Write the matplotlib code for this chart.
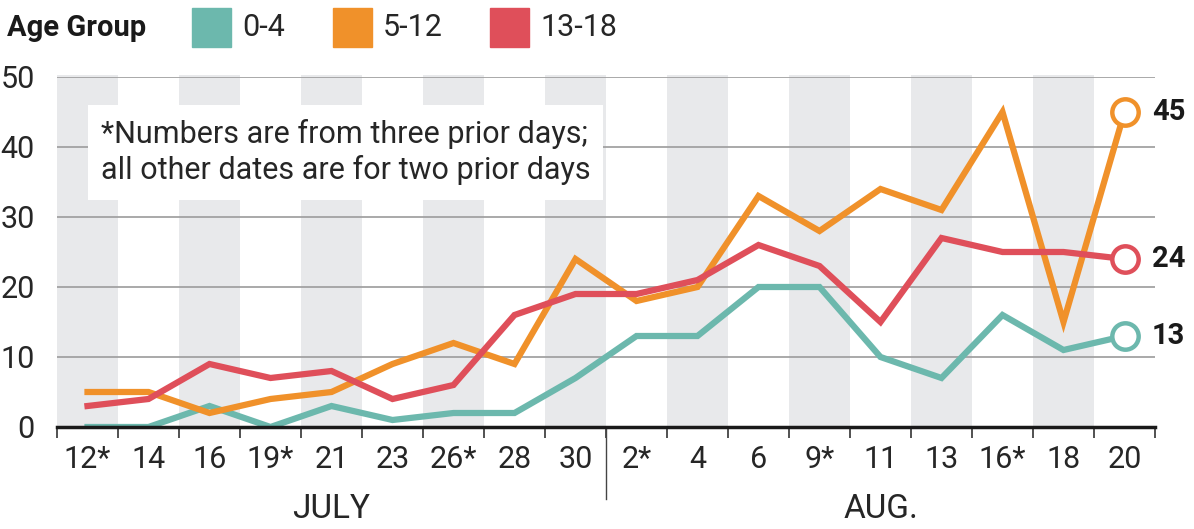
import matplotlib
matplotlib.use("Agg")
import matplotlib.pyplot as plt
from matplotlib.patches import Rectangle
import numpy as np

# data
dates = ["12*", "14", "16", "19*", "21", "23", "26*", "28", "30",
         "2*", "4", "6", "9*", "11", "13", "16*", "18", "20"]
months = ["JULY", "AUG."]
n_july = 9
age_groups = ["0-4", "5-12", "13-18"]
age_0_4 = [0, 0, 3, 0, 3, 1, 2, 2, 7, 13, 13, 20, 20, 10, 7, 16, 11, 13]
age_5_12 = [5, 5, 2, 4, 5, 9, 12, 9, 24, 18, 20, 33, 28, 34, 31, 45, 15, 45]
age_13_18 = [3, 4, 9, 7, 8, 4, 6, 16, 19, 19, 21, 26, 23, 15, 27, 25, 25, 24]
note = "*Numbers are from three prior days;\nall other dates are for two prior days"

colors = {"0-4": "#6cb8ad", "5-12": "#f0912a", "13-18": "#df4f5a"}
plt.rcParams["font.family"] = ["Roboto", "DejaVu Sans"]
TXT = "#262626"

fig = plt.figure(figsize=(11.94, 5.29), dpi=100)
ax = fig.add_axes([57 / 1194, 1 - 427 / 529, 1098 / 1194, 350 / 529])
x = np.arange(len(dates))
ax.set_xlim(-0.5, len(dates) - 0.5)
ax.set_ylim(0, 50)

# alternating grey columns
for i in range(0, len(dates), 2):
    ax.add_patch(Rectangle((i - 0.5, 0), 1, 50.3, color="#e8e9eb", lw=0,
                           zorder=0, clip_on=False))
for v in range(10, 51, 10):
    ax.axhline(v, color="#a2a2a2", lw=1.3, zorder=1)

# footnote box
ax.add_patch(Rectangle((0.0, 32.5), 8.45, 13.5, facecolor="white", lw=0, zorder=2))
ax.text(0.22, 39.3, note, fontsize=22, color=TXT, va="center", ha="left",
        linespacing=1.22, zorder=3)

series = [age_0_4, age_5_12, age_13_18]
for name, vals in zip(age_groups, series):
    ax.plot(x, vals, color=colors[name], lw=4.5, solid_joinstyle="miter", zorder=4)
    ax.plot(x[-1], vals[-1], "o", ms=19, mfc="white", mec=colors[name], mew=3.2,
            zorder=5, clip_on=False)
    ax.text(x[-1] + 0.45, vals[-1], str(vals[-1]), fontsize=21, fontweight="bold",
            va="center", ha="left", color="#1a1a1a", clip_on=False)

for s in ["top", "right", "left"]:
    ax.spines[s].set_visible(False)
ax.spines["bottom"].set_linewidth(2.5)
ax.spines["bottom"].set_color("#1a1a1a")
ax.spines["bottom"].set_zorder(6)

ax.set_yticks(range(0, 51, 10))
ax.tick_params(axis="y", length=0, pad=16, labelsize=22, labelcolor=TXT)
ax.set_xticks(np.arange(-0.5, len(dates)))
ax.set_xticklabels([])
ax.tick_params(axis="x", length=8, width=1.2, color="#333333", direction="out")
for i, d in enumerate(dates):
    ax.text(i, -2.6, d, fontsize=22, ha="center", va="top", color=TXT)

# month separator and labels
ax.plot([n_july - 0.5, n_july - 0.5], [0, -10.3], color="#444444", lw=1,
        clip_on=False)
ax.text((n_july - 1) / 2, -9.5, months[0], fontsize=24, ha="center", va="top",
        color=TXT)
ax.text((n_july + len(dates) - 1) / 2, -9.5, months[1], fontsize=24, ha="center",
        va="top", color=TXT)

# legend row at the top
fig.text(7 / 1194, 1 - 28 / 529, "Age Group", fontsize=21, fontweight="bold",
         va="center", ha="left", color="#1a1a1a")
lx = [192, 333, 490]
for px, name in zip(lx, age_groups):
    fig.patches.append(Rectangle((px / 1194, 1 - 47 / 529), 39 / 1194, 39 / 529,
                                 color=colors[name], transform=fig.transFigure))
    fig.text((px + 50) / 1194, 1 - 27 / 529, name, fontsize=22, va="center",
             ha="left", color=TXT)

fig.savefig("out.png", dpi=100)
